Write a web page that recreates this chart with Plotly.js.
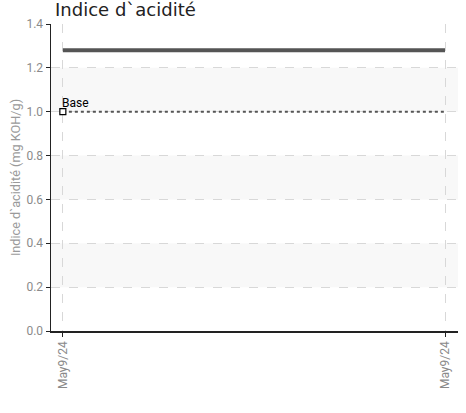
<!DOCTYPE html>
<html>
<head>
<meta charset="utf-8">
<script src="https://cdn.plot.ly/plotly-3.0.1.min.js"></script>
<style>html,body{margin:0;padding:0;background:#fff;}#chart{width:466px;height:413px;}</style>
</head>
<body>
<div id="chart"></div>
<script>
const xIndex = [0, 1];
const tickLabels = ['May9/24', 'May9/24'];
const acidValues = [1.28, 1.28];
const baseValues = [1.0, 1.0];
const baseLabel = 'Base';
const bandRanges = [[0.2, 0.4], [0.6, 0.8], [1.0, 1.2]];

const narrow = '"Roboto", sans-serif';
const tickFont = {family: narrow, size: 12, color: '#8a8a8a'};

const traces = [
  {
    x: xIndex, y: acidValues, type: 'scatter', mode: 'lines',
    line: {color: '#555555', width: 4}, hoverinfo: 'skip', showlegend: false
  },
  {
    x: xIndex, y: baseValues, type: 'scatter', mode: 'lines',
    line: {color: '#555555', width: 2, dash: 'dot'}, hoverinfo: 'skip', showlegend: false
  },
  {
    x: [xIndex[0]], y: [baseValues[0]], type: 'scatter', mode: 'markers',
    marker: {symbol: 'square', size: 6, color: '#ffffff', line: {color: '#000000', width: 1.2}},
    hoverinfo: 'skip', showlegend: false, cliponaxis: false
  }
];

const shapes = bandRanges.map(r => ({
  type: 'rect', xref: 'paper', yref: 'y', x0: 0, x1: 1, y0: r[0], y1: r[1],
  fillcolor: '#f8f8f8', line: {width: 0}, layer: 'below'
}));

const layout = {
  width: 466, height: 413,
  margin: {l: 51, r: 8, t: 24, b: 82},
  paper_bgcolor: '#ffffff', plot_bgcolor: '#ffffff',
  title: {
    text: 'Indice d`acidité',
    font: {family: '"DejaVu Sans", sans-serif', size: 18, color: '#222222'},
    x: 0.01, xref: 'paper', xanchor: 'left',
    y: 0.962, yref: 'container', yanchor: 'bottom'
  },
  shapes: shapes,
  annotations: [{
    x: xIndex[0], y: baseValues[0], xref: 'x', yref: 'y',
    text: baseLabel, showarrow: false, xanchor: 'left', yanchor: 'bottom',
    xshift: -3, yshift: 0,
    font: {family: narrow, size: 12, color: '#000000'}
  }],
  xaxis: {
    range: [-0.031, 1.034],
    tickmode: 'array', tickvals: xIndex, ticktext: tickLabels,
    tickangle: -90, tickfont: tickFont,
    showline: true, linecolor: '#222222', linewidth: 1.5,
    ticks: 'outside', ticklen: 4, tickcolor: '#222222', tickwidth: 1,
    showgrid: true, gridcolor: '#d8d8d8', griddash: 'dash', gridwidth: 1,
    zeroline: false, fixedrange: true
  },
  yaxis: {
    range: [0, 1.4], dtick: 0.2, tickformat: '.1f',
    tickfont: tickFont,
    title: {text: 'Indice d`acidité (mg KOH/g)', font: {family: narrow, size: 12.7, color: '#9a9a9a'}, standoff: 3},
    showline: true, linecolor: '#222222', linewidth: 1.5,
    ticks: 'outside', ticklen: 4, tickcolor: '#222222', tickwidth: 1,
    showgrid: true, gridcolor: '#d8d8d8', griddash: 'dash', gridwidth: 1,
    zeroline: false, fixedrange: true
  }
};

Plotly.newPlot('chart', traces, layout, {displayModeBar: false, staticPlot: true});
</script>
</body>
</html>
